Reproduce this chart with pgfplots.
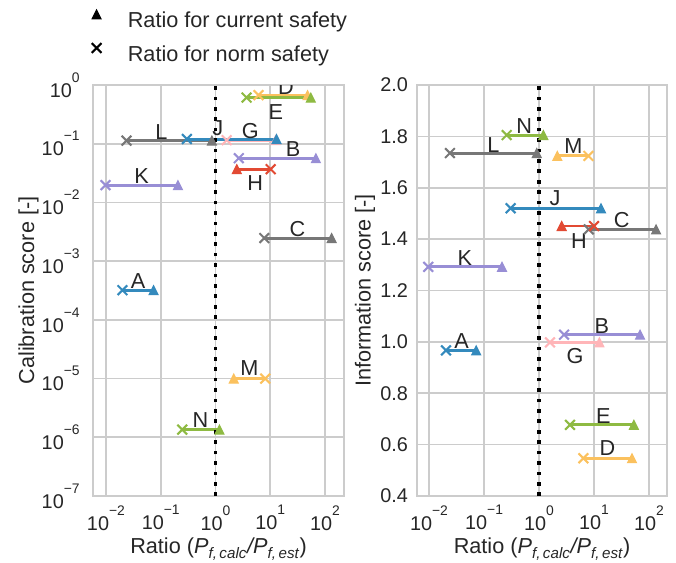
\documentclass[border=0pt]{standalone}
\usepackage{pgfplots}
\pgfplotsset{compat=1.18}
\usepackage{fontspec}
\setmainfont{Liberation Sans}
\definecolor{cblue}{HTML}{348ABD}
\definecolor{cpurple}{HTML}{988ED5}
\definecolor{cgray}{HTML}{777777}
\definecolor{cyellow}{HTML}{FBC15E}
\definecolor{cgreen}{HTML}{8EBA42}
\definecolor{cpink}{HTML}{FFB5B8}
\definecolor{cred}{HTML}{E24A33}
\definecolor{txt}{HTML}{262626}
\definecolor{gridc}{HTML}{CCCCCC}
\pgfdeclareplotmark{mtri}{%
 \pgfpathmoveto{\pgfqpoint{0pt}{\pgfplotmarksize}}%
 \pgfpathlineto{\pgfqpoint{-\pgfplotmarksize}{-\pgfplotmarksize}}%
 \pgfpathlineto{\pgfqpoint{\pgfplotmarksize}{-\pgfplotmarksize}}%
 \pgfpathclose\pgfusepathqfillstroke}
\pgfdeclareplotmark{mx}{%
 \pgfpathmoveto{\pgfqpoint{-\pgfplotmarksize}{-\pgfplotmarksize}}%
 \pgfpathlineto{\pgfqpoint{\pgfplotmarksize}{\pgfplotmarksize}}%
 \pgfpathmoveto{\pgfqpoint{-\pgfplotmarksize}{\pgfplotmarksize}}%
 \pgfpathlineto{\pgfqpoint{\pgfplotmarksize}{-\pgfplotmarksize}}%
 \pgfusepathqstroke}
\newcommand{\tp}[1]{10\raisebox{10.8pt}{\fontsize{10}{10}\selectfont #1}}
\newcommand{\seg}[4]{%
 \addplot[#1, line width=2.1pt, forget plot] coordinates {(#2,#4) (#3,#4)};
 \addplot[#1, only marks, mark=mtri, mark size=3.2pt, mark options={solid, line width=0.8pt, fill=#1, draw=#1}, forget plot] coordinates {(#3,#4)};
 \addplot[#1, only marks, mark=mx, mark size=3.5pt, mark options={solid, line width=1.5pt, draw=#1}, forget plot] coordinates {(#2,#4)};
}
\newcommand{\lab}[3]{\node[font=\fontsize{15.6}{18}\selectfont, text=txt, inner sep=0pt, anchor=center] at (axis cs:#1,#2) {#3};}
\pgfplotsset{
 every axis/.append style={
 scale only axis, height=295.92pt,
 xtick={0.01,0.1,1,10,100},
 xticklabels={\tp{−2},\tp{−1},\tp{0},\tp{1},\tp{2}},
 axis line style={draw=gridc, line width=1.6pt},
 grid=major, major grid style={draw=gridc, line width=1.2pt},
 major tick length=0pt, minor tick length=0pt,
 tick label style={font=\fontsize{14.3}{16}\selectfont, text=txt},
 xticklabel style={anchor=north, inner sep=0pt, yshift=-6.5pt},
 label style={font=\fontsize{15.6}{18}\selectfont, text=txt},
 xlabel style={at={(axis description cs:0.5,-0.141)}, anchor=base},
 }
}
\begin{document}
\begin{tikzpicture}
\useasboundingbox (0,0) rectangle (486.72pt,404.64pt);
\begin{axis}[xmode=log, ymode=log, at={(66.96pt,47.52pt)}, anchor=south west, width=180.72pt,
 xmin=0.0058, xmax=222,
 ymin=1e-7, ymax=1,
 ytick={1e-7,1e-6,1e-5,1e-4,1e-3,1e-2,1e-1,1},
 yticklabels={\tp{−7},\tp{−6},\tp{−5},\tp{−4},\tp{−3},\tp{−2},\tp{−1},\tp{0}},
 yticklabel style={anchor=east, inner sep=0pt, xshift=-9.4pt},
 xlabel={Ratio (\textit{P\textsubscript{f,\,calc}/P\textsubscript{f,\,est}})},
 ylabel={Calibration score [-]},
 ylabel style={at={(axis description cs:-0.257,0.5)}, anchor=center},
 legend image code/.code={\draw[#1] plot coordinates {(0pt,5.6pt)};},
 legend style={draw=none, fill=none, inner sep=0pt, outer sep=0pt,
   at={(axis description cs:-0.005,1.1825)}, anchor=north west,
   row sep=7.7pt, column sep=19pt,
   nodes={inner sep=0pt, text height=11.5pt, text depth=3.3pt, font=\fontsize{15.6}{18}\selectfont, text=txt}},
 legend cell align=left,
]
\addlegendimage{only marks, mark=mtri, mark size=3.2pt, mark options={line width=0.8pt, fill=black, draw=black}}
\addlegendentry{Ratio for current safety}
\addlegendimage{only marks, mark=mx, mark size=3.5pt, mark options={line width=1.5pt, draw=black}}
\addlegendentry{Ratio for norm safety}
\seg{cblue}{0.020}{0.074}{3.2e-4}
\seg{cpurple}{2.66}{68}{0.0566}
\seg{cgray}{7.8}{132}{2.47e-3}
\seg{cyellow}{6.1}{48}{0.67}
\seg{cgreen}{3.7}{55}{0.61}
\seg{cpink}{1.6}{12.5}{0.115}
\seg{cred}{10.2}{2.45}{0.0368}
\seg{cpurple}{0.0098}{0.206}{0.0197}
\seg{cgray}{0.0237}{0.86}{0.113}
\seg{cblue}{0.30}{13}{0.12}
\seg{cyellow}{8.1}{2.15}{1.0e-5}
\seg{cgreen}{0.248}{1.18}{1.35e-6}
\addplot[black, line width=2.6pt, dash pattern=on 2.6pt off 4.9pt, forget plot] coordinates {(1,1e-7) (1,1)};
\lab{19.3}{0.93}{D}
\lab{12.7}{0.35}{E}
\lab{0.103}{0.16}{L}
\lab{1.1}{0.183}{J}
\lab{4.3}{0.167}{G}
\lab{26}{0.0805}{B}
\lab{5.3}{0.0213}{H}
\lab{0.0446}{0.0276}{K}
\lab{31.4}{3.5e-3}{C}
\lab{0.0386}{4.5e-4}{A}
\lab{4.15}{1.52e-5}{M}
\lab{0.533}{2.0e-6}{N}
\end{axis}
\begin{axis}[xmode=log, at={(300.24pt,47.52pt)}, anchor=south west, width=180pt,
 xmin=0.00605, xmax=212,
 ymin=0.4, ymax=2.0,
 ytick={0.4,0.6,0.8,1.0,1.2,1.4,1.6,1.8,2.0},
 yticklabels={0.4,0.6,0.8,1.0,1.2,1.4,1.6,1.8,2.0},
 yticklabel style={anchor=east, inner sep=0pt, xshift=-6.3pt},
 xlabel={Ratio (\textit{P\textsubscript{f,\,calc}/P\textsubscript{f,\,est}})},
 ylabel={Information score [-]},
 ylabel style={at={(axis description cs:-0.208,0.5)}, anchor=center},
]
\seg{cblue}{0.0204}{0.072}{0.967}
\seg{cpurple}{2.85}{68.6}{1.028}
\seg{cgray}{8.0}{134}{1.438}
\seg{cyellow}{6.4}{49}{0.547}
\seg{cgreen}{3.66}{53}{0.677}
\seg{cpink}{1.58}{12.5}{0.998}
\seg{cred}{10}{2.58}{1.451}
\seg{cpurple}{0.0097}{0.212}{1.292}
\seg{cgray}{0.024}{0.91}{1.735}
\seg{cblue}{0.305}{13.4}{1.52}
\seg{cyellow}{7.9}{2.15}{1.724}
\seg{cgreen}{0.258}{1.2}{1.805}
\addplot[black, line width=2.6pt, dash pattern=on 2.6pt off 4.9pt, forget plot] coordinates {(1,0.4) (1,2.0)};
\lab{0.54}{1.841}{N}
\lab{0.148}{1.766}{L}
\lab{4.2}{1.761}{M}
\lab{1.95}{1.558}{J}
\lab{31.9}{1.474}{C}
\lab{5.3}{1.392}{H}
\lab{0.045}{1.328}{K}
\lab{0.039}{1.002}{A}
\lab{13.8}{1.063}{B}
\lab{4.5}{0.944}{G}
\lab{14.8}{0.712}{E}
\lab{17.5}{0.586}{D}
\end{axis}
\end{tikzpicture}
\end{document}
